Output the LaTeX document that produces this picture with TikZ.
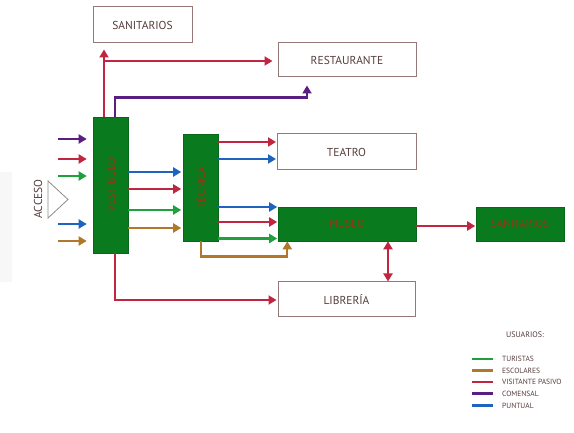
\documentclass[tikz,border=0pt]{standalone}
\usepackage{fontspec}
\setmainfont{PT Sans}
\usetikzlibrary{arrows.meta,calc}
\definecolor{cRed}{RGB}{192,38,64}
\definecolor{cBlue}{RGB}{30,100,190}
\definecolor{cGreen}{RGB}{30,160,60}
\definecolor{cBrown}{RGB}{176,120,40}
\definecolor{cPurple}{RGB}{90,30,130}
\definecolor{boxGreen}{RGB}{10,122,30}
\definecolor{boxBorder}{RGB}{150,120,120}
\definecolor{textGray}{RGB}{85,60,60}
\definecolor{greenText}{RGB}{140,60,20}
\begin{document}
\begin{tikzpicture}[x=1pt,y=-1pt,
  conn/.style={line width=2.2pt,-{Triangle[length=8pt,width=9pt]}},
  wbox/.style={draw=boxBorder,line width=1pt,fill=white,inner sep=0pt,
    font=\fontsize{11.5}{13}\selectfont,text=textGray},
  gbox/.style={draw=boxGreen!85!black,line width=0.6pt,fill=boxGreen,inner sep=0pt,
    font=\fontsize{11}{12}\selectfont,text=greenText},
  gtext/.style={font=\fontsize{11}{12}\selectfont,text=greenText},
  legtext/.style={font=\fontsize{7.5}{8}\selectfont,text=textGray,anchor=west,inner sep=0pt},
  legline/.style={line width=2.6pt}]
\useasboundingbox (0,0) rectangle (574,433);
\fill[white] (0,0) rectangle (574,433);
\fill[black!3] (0,172) rectangle (12,282);

% boxes
\node[wbox,minimum width=99pt,minimum height=36pt] (sanT) at (142.5,25) {SANITARIOS};
\node[wbox,minimum width=138pt,minimum height=34pt] (rest) at (347,60) {RESTAURANTE};
\node[wbox,minimum width=139pt,minimum height=36pt] (teatro) at (346.5,152) {TEATRO};
\node[wbox,minimum width=137pt,minimum height=35pt] (libreria) at (346.5,299.5) {LIBRERÍA};
\node[gbox,minimum width=35pt,minimum height=136pt] (vest) at (110.5,185) {};
\node[gtext,rotate=90] (vestt) at (vest.center) {VESTÍBULO};
\node[gbox,minimum width=35pt,minimum height=107pt] (tec) at (200.5,187.5) {};
\node[gtext,rotate=90] (tect) at (tec.center) {TÉCNICA};
\node[gbox,minimum width=138pt,minimum height=34pt] (museo) at (347,224) {MUSEO};
\node[gbox,minimum width=88pt,minimum height=34pt] (sanG) at (520,224) {SANITARIOS};

% acceso
\node[font=\fontsize{11.5}{13}\selectfont,text=textGray,rotate=90] (acc) at (38,199) {ACCESO};
\coordinate (t1) at (48,181);
\coordinate (t2) at (68,199.5);
\coordinate (t3) at (48,218);
\draw[black!45,line width=0.8pt,line join=miter] (t1) -- (t2) -- (t3) -- cycle;

% incoming arrows
\coordinate (a1) at (58,139);
\coordinate (a2) at (58,159);
\coordinate (a3) at (58,176);
\coordinate (a4) at (58,224);
\coordinate (a5) at (58,241);
\draw[conn,cPurple,shorten >=6pt] (a1) -- (a1 -| vest.west);
\draw[conn,cRed,shorten >=6pt] (a2) -- (a2 -| vest.west);
\draw[conn,cGreen,shorten >=6pt] (a3) -- (a3 -| vest.west);
\draw[conn,cBlue,shorten >=6pt] (a4) -- (a4 -| vest.west);
\draw[conn,cBrown,shorten >=6pt] (a5) -- (a5 -| vest.west);

% top connectors
\coordinate (xR) at (104,0);
\coordinate (jR) at (104,61);
\coordinate (p1) at (115,97.5);
\coordinate (p2) at (307,97.5);
\draw[conn,cRed,shorten >=6pt] (vest.north -| xR) -- (sanT.south -| xR);
\draw[conn,cRed,shorten >=5pt] (jR) -- (jR -| rest.west);
\draw[conn,cPurple,shorten >=8pt,line join=miter] (vest.north -| p1) -- (p1) -- (p2) -- (rest.south -| p2);

% vestibulo -> tecnica
\coordinate (v1) at (0,172);
\coordinate (v2) at (0,189);
\coordinate (v3) at (0,210);
\coordinate (v4) at (0,228);
\draw[conn,cBlue,shorten >=1.5pt] (vest.east |- v1) -- (tec.west |- v1);
\draw[conn,cRed,shorten >=1.5pt] (vest.east |- v2) -- (tec.west |- v2);
\draw[conn,cGreen,shorten >=1.5pt] (vest.east |- v3) -- (tec.west |- v3);
\draw[conn,cBrown,shorten >=1.5pt] (vest.east |- v4) -- (tec.west |- v4);

% tecnica -> teatro
\coordinate (w1) at (0,142);
\coordinate (w2) at (0,159);
\draw[conn,cRed,shorten >=0.5pt] (tec.east |- w1) -- (teatro.west |- w1);
\draw[conn,cBlue,shorten >=0.5pt] (tec.east |- w2) -- (teatro.west |- w2);

% tecnica -> museo
\coordinate (u1) at (0,207);
\coordinate (u2) at (0,222);
\coordinate (u3) at (0,238.5);
\draw[conn,cBlue,shorten >=0.5pt] (tec.east |- u1) -- (museo.west |- u1);
\draw[conn,cRed,shorten >=0.5pt] (tec.east |- u2) -- (museo.west |- u2);
\draw[conn,cGreen,shorten >=0.5pt] (tec.east |- u3) -- (museo.west |- u3);
\coordinate (b1) at (200.7,256.5);
\coordinate (b2) at (287.3,256.5);
\draw[conn,cBrown,line join=miter] (tec.south -| b1) -- (b1) -- (b2) -- (museo.south -| b2);

% museo -> sanitarios
\coordinate (m1) at (0,226);
\draw[conn,cRed,shorten >=0.5pt] (museo.east |- m1) -- (sanG.west |- m1);

% museo <-> libreria
\coordinate (l1) at (388,0);
\draw[line width=2.2pt,cRed,{Triangle[length=8pt,width=9pt]}-{Triangle[length=8pt,width=9pt]}] (museo.south -| l1) -- (libreria.north -| l1);

% vestibulo -> libreria
\coordinate (q1) at (115,300);
\draw[conn,cRed,shorten >=1pt,line join=miter] (vest.south -| q1) -- (q1) -- (q1 -| libreria.west);

% legend
\node[font=\fontsize{8}{9}\selectfont,text=textGray] (usr) at (525,335) {USUARIOS:};
\coordinate (g1) at (472,359);
\coordinate (g2) at (472,370.5);
\coordinate (g3) at (472,382);
\coordinate (g4) at (472,393.5);
\coordinate (g5) at (472,405.5);
\coordinate (gx) at (493,0);
\coordinate (tx) at (502,0);
\draw[legline,cGreen] (g1) -- (g1 -| gx);
\draw[legline,cBrown] (g2) -- (g2 -| gx);
\draw[legline,cRed] (g3) -- (g3 -| gx);
\draw[legline,cPurple] (g4) -- (g4 -| gx);
\draw[legline,cBlue] (g5) -- (g5 -| gx);
\node[legtext] (lt1) at (g1 -| tx) {TURISTAS};
\node[legtext] (lt2) at (g2 -| tx) {ESCOLARES};
\node[legtext] (lt3) at (g3 -| tx) {VISITANTE PASIVO};
\node[legtext] (lt4) at (g4 -| tx) {COMENSAL};
\node[legtext] (lt5) at (g5 -| tx) {PUNTUAL};
\end{tikzpicture}
\end{document}
